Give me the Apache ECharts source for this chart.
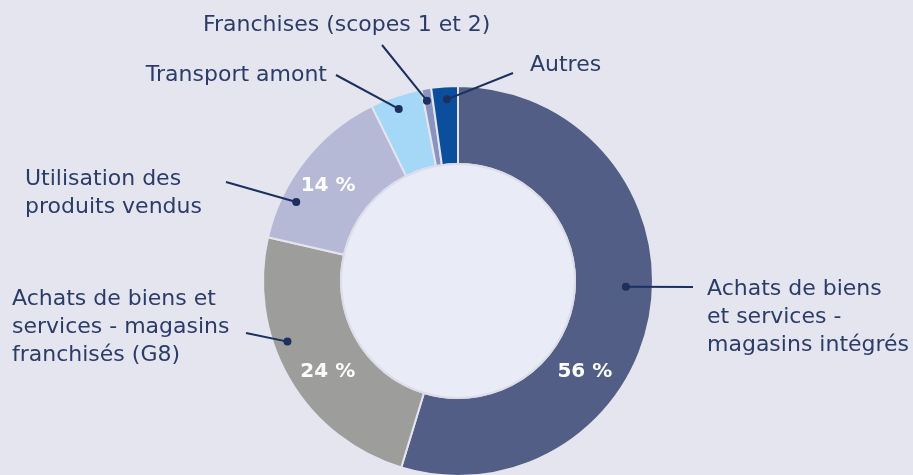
<!DOCTYPE html>
<html lang="fr">
<head>
    <meta charset="UTF-8">
    <script type="text/javascript" src="https://cdn.jsdelivr.net/npm/echarts@6/dist/echarts.min.js"></script>
    <title>Répartition des émissions</title>
    <style>
        html, body { margin: 0; padding: 0; background: #e4e5ee; }
    </style>
</head>
<body>
<div id="donut" style="width: 913px;height:475px;"></div>
<script type="text/javascript">
    // données
    var categories = [
        'Achats de biens et services - magasins intégrés',
        'Achats de biens et services - magasins franchisés (G8)',
        'Utilisation des produits vendus',
        'Transport amont',
        'Franchises (scopes 1 et 2)',
        'Autres'
    ];
    var calloutText = [
        'Achats de biens\net services -\nmagasins intégrés',
        'Achats de biens et\nservices - magasins\nfranchisés (G8)',
        'Utilisation des\nproduits vendus',
        'Transport amont',
        'Franchises (scopes 1 et 2)',
        'Autres'
    ];
    var shares = [54.7, 23.9, 14.1, 4.3, 0.8, 2.2];
    var shareLabels = ['56 %', '24 %', '14 %', '', '', ''];
    var colors = ['#525e86', '#9d9d9b', '#b5b9d6', '#a4d8f6', '#8b94c0', '#0b4f9c'];

    // mise en page
    var CX = 458, CY = 281, R = 195, R0 = 117;
    var TEXT = '#2c3c68', LINE = '#1c2f5e';
    var FONT = '"DejaVu Sans", sans-serif';
    // point d'ancrage : [fraction de l'angle, rayon], fin du trait, texte [x, y, align]
    var callouts = [
        { dot: [0.467, 168], end: [693, 287], text: [707, 275, 'left'] },
        { dot: [0.622, 181], end: [246, 333], text: [12, 285, 'left'] },
        { dot: [0.257, 180], end: [226, 182], text: [25, 165, 'left'] },
        { dot: [0.47, 182], end: [336, 75], text: [327, 61, 'right'] },
        { dot: [0.35, 183], end: [382, 45], text: [203, 11, 'left'] },
        { dot: [0.56, 182], end: [513, 73], text: [530, 51, 'left'] }
    ];
    // étiquettes de pourcentage : [angle, rayon]
    var pctPos = [[125.6, 156], [235, 159], [306.2, 161]];

    var total = shares.reduce(function (a, b) { return a + b; }, 0);
    function pt(deg, r) {
        var a = deg * Math.PI / 180;
        return [CX + r * Math.sin(a), CY - r * Math.cos(a)];
    }

    var graphics = [];
    var cum = 0;
    shares.forEach(function (v, i) {
        var start = cum / total * 360;
        cum += v;
        var end = cum / total * 360;
        var c = callouts[i];
        var p = pt(start + c.dot[0] * (end - start), c.dot[1]);
        graphics.push({
            type: 'polyline', z: 10, silent: true,
            shape: { points: [p, c.end] },
            style: { stroke: LINE, lineWidth: 2, fill: null }
        });
        graphics.push({
            type: 'circle', z: 11, silent: true,
            shape: { cx: p[0], cy: p[1], r: 4 },
            style: { fill: LINE }
        });
        graphics.push({
            type: 'text', z: 10, silent: true,
            x: c.text[0], y: c.text[1],
            style: {
                text: calloutText[i], fill: TEXT, font: '22px ' + FONT,
                align: c.text[2], verticalAlign: 'top', lineHeight: 28
            }
        });
        if (shareLabels[i]) {
            var q = pt(pctPos[i][0], pctPos[i][1]);
            graphics.push({
                type: 'text', z: 10, silent: true,
                x: q[0], y: q[1],
                style: {
                    text: shareLabels[i], fill: '#ffffff', font: 'bold 20px ' + FONT,
                    align: 'center', verticalAlign: 'middle'
                }
            });
        }
    });

    var donut = echarts.init(document.getElementById('donut'));
    donut.setOption({
        backgroundColor: '#e4e5ee',
        animation: false,
        graphic: graphics,
        series: [{
            type: 'pie',
            silent: true,
            center: [CX, CY],
            radius: [R0, R],
            startAngle: 90,
            clockwise: true,
            label: { show: false },
            labelLine: { show: false },
            itemStyle: { borderColor: '#e4e5ee', borderWidth: 2 },
            data: categories.map(function (name, i) {
                return { name: name, value: shares[i], itemStyle: { color: colors[i] } };
            })
        }, {
            // disque central
            type: 'pie',
            silent: true,
            center: [CX, CY],
            radius: [0, R0],
            label: { show: false },
            labelLine: { show: false },
            itemStyle: { color: '#e9ebf6', borderColor: '#dcdde8', borderWidth: 2 },
            data: [{ name: 'centre', value: 1 }]
        }]
    });
</script>
</body>
</html>
